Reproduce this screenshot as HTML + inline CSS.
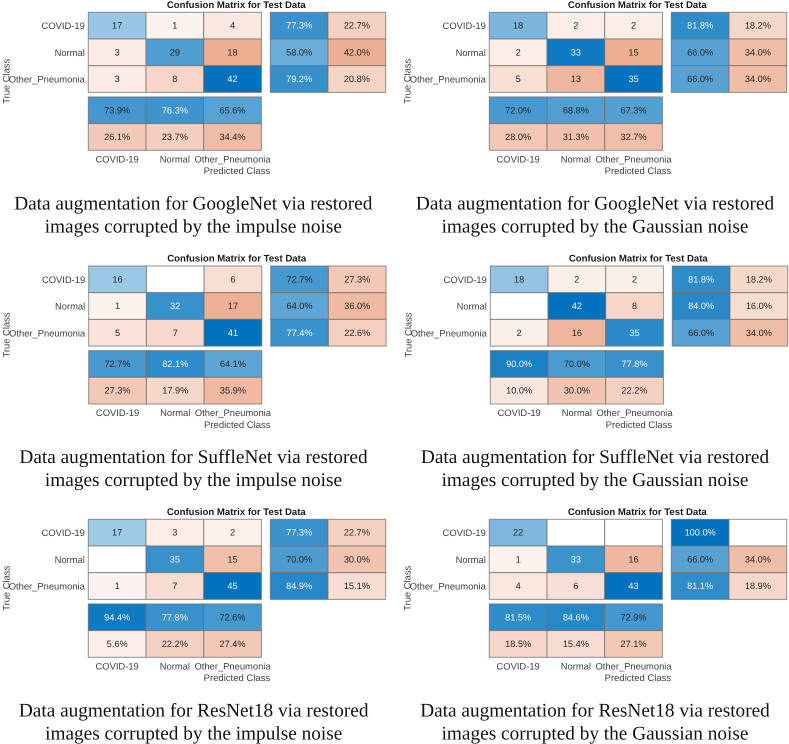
<!DOCTYPE html>
<html lang="en">
<head>
<meta charset="utf-8">
<title>Confusion matrices for data augmentation</title>
<style>
html,body{margin:0;padding:0;background:#fff;width:789px;height:744px;overflow:hidden}
svg{display:block;filter:blur(0.3px);text-rendering:geometricPrecision}
text{font-family:"Liberation Sans",Arial,sans-serif}
.caption{font-family:"Liberation Serif","Times New Roman",serif;font-size:19.3px;fill:#111;text-anchor:middle}
</style>
</head>
<body>
<svg id="figure" xmlns="http://www.w3.org/2000/svg" width="789" height="744" viewBox="0 0 789 744"></svg>
<script>
const classLabels = ["COVID-19", "Normal", "Other_Pneumonia"];

const countsGoogleNetImpulse = [[17, 1, 4], [3, 29, 18], [3, 8, 42]];
const rowCorrectGoogleNetImpulse = [77.3, 58.0, 79.2];
const rowWrongGoogleNetImpulse = [22.7, 42.0, 20.8];
const colCorrectGoogleNetImpulse = [73.9, 76.3, 65.6];
const colWrongGoogleNetImpulse = [26.1, 23.7, 34.4];

const countsGoogleNetGaussian = [[18, 2, 2], [2, 33, 15], [5, 13, 35]];
const rowCorrectGoogleNetGaussian = [81.8, 66.0, 66.0];
const rowWrongGoogleNetGaussian = [18.2, 34.0, 34.0];
const colCorrectGoogleNetGaussian = [72.0, 68.8, 67.3];
const colWrongGoogleNetGaussian = [28.0, 31.3, 32.7];

const countsSuffleNetImpulse = [[16, 0, 6], [1, 32, 17], [5, 7, 41]];
const rowCorrectSuffleNetImpulse = [72.7, 64.0, 77.4];
const rowWrongSuffleNetImpulse = [27.3, 36.0, 22.6];
const colCorrectSuffleNetImpulse = [72.7, 82.1, 64.1];
const colWrongSuffleNetImpulse = [27.3, 17.9, 35.9];

const countsSuffleNetGaussian = [[18, 2, 2], [0, 42, 8], [2, 16, 35]];
const rowCorrectSuffleNetGaussian = [81.8, 84.0, 66.0];
const rowWrongSuffleNetGaussian = [18.2, 16.0, 34.0];
const colCorrectSuffleNetGaussian = [90.0, 70.0, 77.8];
const colWrongSuffleNetGaussian = [10.0, 30.0, 22.2];

const countsResNet18Impulse = [[17, 3, 2], [0, 35, 15], [1, 7, 45]];
const rowCorrectResNet18Impulse = [77.3, 70.0, 84.9];
const rowWrongResNet18Impulse = [22.7, 30.0, 15.1];
const colCorrectResNet18Impulse = [94.4, 77.8, 72.6];
const colWrongResNet18Impulse = [5.6, 22.2, 27.4];

const countsResNet18Gaussian = [[22, 0, 0], [1, 33, 16], [4, 6, 43]];
const rowCorrectResNet18Gaussian = [100.0, 66.0, 81.1];
const rowWrongResNet18Gaussian = [0, 34.0, 18.9];
const colCorrectResNet18Gaussian = [81.5, 84.6, 72.9];
const colWrongResNet18Gaussian = [18.5, 15.4, 27.1];

const panels = [
  {id:"googlenet-impulse", counts:countsGoogleNetImpulse, rc:rowCorrectGoogleNetImpulse, rw:rowWrongGoogleNetImpulse, cc:colCorrectGoogleNetImpulse, cw:colWrongGoogleNetImpulse, x:88.3, y:12.3, capX:193.3, capY:209.5, lines:["Data augmentation for GoogleNet via restored","images corrupted by the impulse noise"]},
  {id:"googlenet-gaussian", counts:countsGoogleNetGaussian, rc:rowCorrectGoogleNetGaussian, rw:rowWrongGoogleNetGaussian, cc:colCorrectGoogleNetGaussian, cw:colWrongGoogleNetGaussian, x:489.3, y:12.3, capX:595, capY:209.5, lines:["Data augmentation for GoogleNet via restored","images corrupted by the Gaussian noise"]},
  {id:"sufflenet-impulse", counts:countsSuffleNetImpulse, rc:rowCorrectSuffleNetImpulse, rw:rowWrongSuffleNetImpulse, cc:colCorrectSuffleNetImpulse, cw:colWrongSuffleNetImpulse, x:88.7, y:266, capX:193.5, capY:463, lines:["Data augmentation for SuffleNet via restored","images corrupted by the impulse noise"]},
  {id:"sufflenet-gaussian", counts:countsSuffleNetGaussian, rc:rowCorrectSuffleNetGaussian, rw:rowWrongSuffleNetGaussian, cc:colCorrectSuffleNetGaussian, cw:colWrongSuffleNetGaussian, x:490.3, y:266, capX:595, capY:463, lines:["Data augmentation for SuffleNet via restored","images corrupted by the Gaussian noise"]},
  {id:"resnet18-impulse", counts:countsResNet18Impulse, rc:rowCorrectResNet18Impulse, rw:rowWrongResNet18Impulse, cc:colCorrectResNet18Impulse, cw:colWrongResNet18Impulse, x:88.3, y:519.3, capX:193.7, capY:716.5, lines:["Data augmentation for ResNet18 via restored","images corrupted by the impulse noise"]},
  {id:"resnet18-gaussian", counts:countsResNet18Gaussian, rc:rowCorrectResNet18Gaussian, rw:rowWrongResNet18Gaussian, cc:colCorrectResNet18Gaussian, cw:colWrongResNet18Gaussian, x:489.3, y:519.3, capX:595, capY:716.5, lines:["Data augmentation for ResNet18 via restored","images corrupted by the Gaussian noise"]}
];

const SVG_NS = "http://www.w3.org/2000/svg";
const figure = document.getElementById("figure");
const CELL_W = 57.7, CELL_H = 26.7, RIGHT_GAP = 182, BOTTOM_GAP = 84.6;

function mix(t, c) {
  const v = c.map(function (k) { return Math.round(255 + (k - 255) * t); });
  return "rgb(" + v.join(",") + ")";
}
function blue(t) { return mix(Math.min(1, t), [0, 114, 189]); }
function orange(t) { return t <= 0 ? "#ffffff" : mix(Math.min(1, t + 0.045), [217, 83, 25]); }
function svgEl(tag, attrs, parent) {
  const el = document.createElementNS(SVG_NS, tag);
  Object.keys(attrs).forEach(function (k) { el.setAttribute(k, attrs[k]); });
  parent.appendChild(el);
  return el;
}
function drawText(parent, name, str, x, y, size, fill, anchor, weight) {
  const t = svgEl("text", {x: x, y: y, "font-size": size, fill: fill, "text-anchor": anchor, "font-weight": weight || "normal", "dominant-baseline": "central"}, parent);
  
  
  t.textContent = str;
  return t;
}
function drawCell(parent, name, x, y, fill, label, labelFill) {
  const r = svgEl("rect", {x: x, y: y, width: CELL_W, height: CELL_H, fill: fill, stroke: "#6f6f6f", "stroke-opacity": "0.75", "stroke-width": "1"}, parent);
  
  
  if (label !== "") {
    drawText(parent, name + "-value", label, x + CELL_W / 2, y + CELL_H / 2, 9.2, labelFill, "middle");
  }
}
function textColor(t) { return t >= 0.75 ? "#f2f6fa" : "#262626"; }
function pct(v) { return v <= 0 ? "" : v.toFixed(1) + "%"; }

panels.forEach(function (p) {
  const g = svgEl("g", {}, figure);
  
  
  const cx = function (i) { return p.x + i * CELL_W; };
  const cy = function (i) { return p.y + i * CELL_H; };
  const maxCount = Math.max.apply(null, p.counts.flat());

  drawText(g, "chart-title", "Confusion Matrix for Test Data", p.x + 148, p.y - 7, 9.6, "#1a1a1a", "middle", "bold");

  p.counts.forEach(function (row, r) {
    row.forEach(function (v, c) {
      const t = v / maxCount;
      const fill = r === c ? blue(t) : orange(t);
      const col = r === c ? textColor(t) : "#262626";
      drawCell(g, "cell-r" + r + "-c" + c, cx(c), cy(r), fill, v === 0 ? "" : String(v), col);
    });
  });

  p.rc.forEach(function (v, r) {
    const y = cy(r);
    drawCell(g, "row-correct-" + r, p.x + RIGHT_GAP, y, blue(v / 100), pct(v), textColor(v / 100));
    drawCell(g, "row-incorrect-" + r, p.x + RIGHT_GAP + CELL_W, y, orange(p.rw[r] / 100), pct(p.rw[r]), "#262626");
  });

  p.cc.forEach(function (v, c) {
    const x = cx(c);
    drawCell(g, "column-correct-" + c, x, p.y + BOTTOM_GAP, blue(v / 100), pct(v), textColor(v / 100));
    drawCell(g, "column-incorrect-" + c, x, p.y + BOTTOM_GAP + CELL_H, orange(p.cw[c] / 100), pct(p.cw[c]), "#262626");
  });

  classLabels.forEach(function (lab, i) {
    drawText(g, "y-tick-label-" + i, lab, p.x - 3.5, cy(i) + CELL_H / 2, 9.4, "#404040", "end");
    drawText(g, "x-tick-label-" + i, lab, cx(i) + CELL_W / 2, p.y + 146.7, 9.4, "#404040", "middle");
  });

  drawText(g, "x-axis-title", "Predicted Class", p.x + 148.6, p.y + 159.4, 9.5, "#404040", "middle");
  const yt = drawText(g, "y-axis-title", "True Class", 0, 0, 9.4, "#404040", "middle");
  yt.setAttribute("transform", "translate(" + (p.x - 82.5) + "," + (p.y + 69) + ") rotate(-90)");

  p.lines.forEach(function (line, i) {
    const c = svgEl("text", {x: p.capX, y: p.capY + i * 22.8, "class": "caption"}, figure);
    
    
    c.textContent = line;
  });
});
</script>
</body>
</html>
